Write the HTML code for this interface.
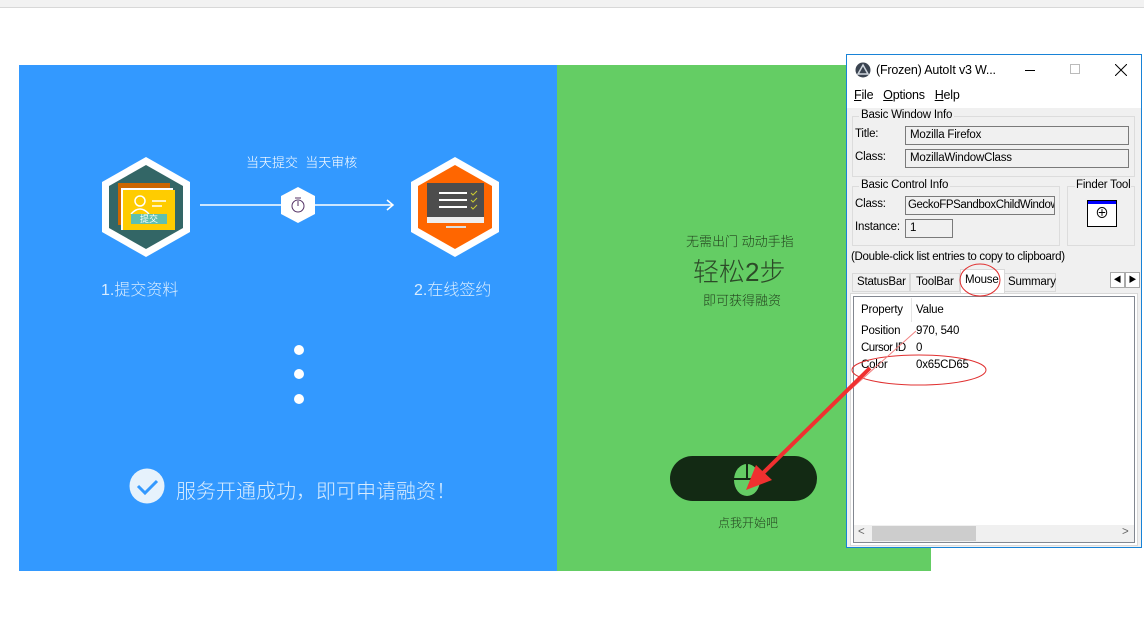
<!DOCTYPE html>
<html><head><meta charset="utf-8"><style>
*{margin:0;padding:0;box-sizing:border-box}
body{width:1144px;height:637px;position:relative;background:#fff;overflow:hidden;font-family:"Liberation Sans","Noto Sans CJK SC",sans-serif}
.a{position:absolute}
.cn{font-family:"Liberation Sans","Noto Sans CJK SC",sans-serif;font-weight:300}
.w{font-family:"Liberation Sans","Noto Sans CJK SC",sans-serif;font-size:11.5px;color:#000;letter-spacing:-0.2px;white-space:nowrap}
.box{border:1px solid #7a7a7a;background:#f0f0f0;padding:2px 4px;font-size:11.5px;letter-spacing:-0.2px}
.grp{border:1px solid #dcdcdc}
</style></head><body>
<div class="a" style="left:0;top:0;width:1144px;height:8px;background:#f2f2f2;border-bottom:1px solid #d8d8d8"></div>

<div class="a" style="left:19px;top:65px;width:538px;height:506px;background:#3399ff"></div>
<div class="a" style="left:557px;top:65px;width:374px;height:506px;background:#64cd64"></div>

<svg class="a" style="left:0;top:0" width="1144" height="637">
  <polygon points="146,157 190,182 190,232 146,257 102,232 102,182" fill="#fff"/>
  <polygon points="146,165 183,186 183,228 146,249 109,228 109,186" fill="#336666"/>
  <rect x="118" y="183" width="52" height="42" fill="#cc6600"/>
  <rect x="121" y="188" width="52" height="42" fill="#fff"/>
  <rect x="123" y="190" width="52" height="40" fill="#ffcc00"/>
  <circle cx="140" cy="201" r="5" fill="none" stroke="#fff" stroke-width="1.5"/>
  <path d="M131 214 q9 -10 18 0" fill="none" stroke="#fff" stroke-width="1.5"/>
  <line x1="152" y1="201" x2="166" y2="201" stroke="#fff" stroke-width="1.5"/>
  <line x1="152" y1="206" x2="162" y2="206" stroke="#fff" stroke-width="1.5"/>
  <rect x="131" y="214" width="36" height="10" fill="#5fbfb0"/>
  <text x="149" y="222" fill="#fff" font-size="9" text-anchor="middle" font-family="Noto Sans CJK SC">提交</text>
  <line x1="200" y1="205" x2="393" y2="205" stroke="#fff" stroke-width="1.5"/>
  <polyline points="387,200 393,205 387,210" fill="none" stroke="#fff" stroke-width="1.5"/>
  <polygon points="298,187 315,196 315,214 298,223 281,214 281,196" fill="#fff"/>
  <circle cx="298" cy="206" r="6" fill="none" stroke="#553366" stroke-width="1"/>
  <line x1="298" y1="206" x2="298" y2="201" stroke="#553366"/>
  <line x1="295" y1="198" x2="301" y2="198" stroke="#553366"/>
  <polygon points="455,157 499,182 499,232 455,257 411,232 411,182" fill="#fff"/>
  <polygon points="455,165 492,186 492,228 455,249 418,228 418,186" fill="#ff6600"/>
  <rect x="427" y="183" width="57" height="40" fill="#4d4d4d"/>
  <rect x="427" y="217" width="57" height="6" fill="#eee"/>
  <rect x="446" y="226" width="20" height="2" fill="#ddd"/>
  <line x1="439" y1="193" x2="467" y2="193" stroke="#fff" stroke-width="2"/>
  <line x1="439" y1="200" x2="467" y2="200" stroke="#fff" stroke-width="2"/>
  <line x1="439" y1="207" x2="467" y2="207" stroke="#fff" stroke-width="2"/>
  <path d="M471 193 l2 2 l4 -4 M471 200 l2 2 l4 -4 M471 207 l2 2 l4 -4" stroke="#cccc33" fill="none"/>
  <circle cx="299" cy="350" r="5" fill="#fff"/>
  <circle cx="299" cy="374" r="5" fill="#fff"/>
  <circle cx="299" cy="399" r="5" fill="#fff"/>
  <circle cx="147" cy="486" r="17.5" fill="#e6f2fc"/>
  <polyline points="138,486 145,493 157,481" fill="none" stroke="#3399ff" stroke-width="3"/>
  <rect x="670" y="456" width="147" height="45" rx="22.5" fill="#132a14"/>
  <ellipse cx="747" cy="480" rx="13" ry="16" fill="#64cd64"/>
  <line x1="734" y1="479" x2="760" y2="479" stroke="#132a14" stroke-width="2"/>
  <line x1="747" y1="463" x2="747" y2="479" stroke="#132a14" stroke-width="2"/>
</svg>

<div class="a cn" style="left:246px;top:152px;font-size:13px;color:#fff">当天提交&nbsp;&nbsp;当天审核</div>
<div class="a cn" style="left:101px;top:276px;font-size:16px;color:#d8ecff">1.提交资料</div>
<div class="a cn" style="left:414px;top:276px;font-size:16px;color:#d8ecff">2.在线签约</div>
<div class="a cn" style="left:176px;top:475px;font-size:20px;color:#d8ecff">服务开通成功，即可申请融资！</div>
<div class="a cn" style="left:686px;top:231px;font-size:13px;color:#24431f">无需出门 动动手指</div>
<div class="a cn" style="left:693px;top:252px;font-size:26px;color:#2c4a28">轻松2步</div>
<div class="a cn" style="left:703px;top:290px;font-size:13px;color:#24431f">即可获得融资</div>
<div class="a cn" style="left:718px;top:514px;font-size:12px;color:#24431f">点我开始吧</div>

<div class="a" style="left:846px;top:54px;width:296px;height:494px;background:#f0f0f0;border:1px solid #1883d7">
  <div class="a" style="left:0;top:0;width:294px;height:31px;background:#fff"></div>
  <svg class="a" style="left:8px;top:7px" width="16" height="16"><circle cx="8" cy="8" r="7.5" fill="#3a4350"/><polygon points="8,3 13,12 3,12" fill="none" stroke="#cfd6de" stroke-width="1.5"/></svg>
  <div class="a w" style="left:29px;top:8px;font-size:12.5px">(Frozen) AutoIt v3 W...</div>
  <div class="a" style="left:178px;top:15px;width:10px;height:1px;background:#000"></div>
  <div class="a" style="left:223px;top:9px;width:10px;height:10px;border:1px solid #bbb"></div>
  <svg class="a" style="left:268px;top:9px" width="12" height="12"><path d="M0 0 L12 12 M12 0 L0 12" stroke="#000" stroke-width="1"/></svg>
  <div class="a" style="left:0;top:31px;width:294px;height:22px;background:#fff"></div>
  <div class="a w" style="left:7px;top:33px;font-size:12.5px"><u>F</u>ile&nbsp;&nbsp;&nbsp;<u>O</u>ptions&nbsp;&nbsp;&nbsp;<u>H</u>elp</div>

  <div class="a grp" style="left:5px;top:61px;width:283px;height:61px"></div>
  <div class="a w" style="left:12px;top:54px;background:#f0f0f0;padding:0 2px">Basic Window Info</div>
  <div class="a w" style="left:8px;top:73px">Title:</div>
  <div class="a box" style="left:58px;top:71px;width:224px;height:19px">Mozilla Firefox</div>
  <div class="a w" style="left:8px;top:96px">Class:</div>
  <div class="a box" style="left:58px;top:94px;width:224px;height:19px">MozillaWindowClass</div>

  <div class="a grp" style="left:5px;top:131px;width:208px;height:60px"></div>
  <div class="a w" style="left:12px;top:124px;background:#f0f0f0;padding:0 2px">Basic Control Info</div>
  <div class="a w" style="left:8px;top:143px">Class:</div>
  <div class="a box" style="left:58px;top:141px;width:150px;height:19px;overflow:hidden;white-space:nowrap;letter-spacing:-0.4px;padding:2px 2px">GeckoFPSandboxChildWindow</div>
  <div class="a w" style="left:8px;top:166px">Instance:</div>
  <div class="a box" style="left:58px;top:164px;width:48px;height:19px">1</div>
  <div class="a grp" style="left:220px;top:131px;width:68px;height:60px"></div>
  <div class="a w" style="left:228px;top:124px;background:#f0f0f0;padding:0 1px">Finder Tool</div>
  <div class="a" style="left:240px;top:145px;width:30px;height:27px;border:1px solid #000;background:#fff">
    <div style="height:3px;background:#0000ff"></div>
    <div class="a w" style="left:7px;top:5px;font-size:14px;line-height:14px">⊕</div>
  </div>
  <div class="a w" style="left:4px;top:196px;letter-spacing:-0.3px">(Double-click list entries to copy to clipboard)</div>

  <div class="a w" style="left:5px;top:218px;width:58px;height:19px;border:1px solid #d9d9d9;background:#f0f0f0;padding:2px 4px">StatusBar</div>
  <div class="a w" style="left:63px;top:218px;width:50px;height:19px;border:1px solid #d9d9d9;padding:2px 5px">ToolBar</div>
  <div class="a w" style="left:113px;top:214px;width:45px;height:24px;border:1px solid #d9d9d9;border-bottom:none;background:#fff;padding:4px 4px">Mouse</div>
  <div class="a w" style="left:157px;top:218px;width:52px;height:19px;border:1px solid #d9d9d9;padding:2px 3px">Summary</div>
  <div class="a" style="left:263px;top:217px;width:15px;height:16px;border:1px solid #aaa;background:#fff;font-size:8px;text-align:center;line-height:14px">◀</div>
  <div class="a" style="left:278px;top:217px;width:15px;height:16px;border:1px solid #aaa;background:#fff;font-size:8px;text-align:center;line-height:14px">▶</div>

  <div class="a" style="left:3px;top:238px;width:288px;height:253px;background:#fff;border:1px solid #d9d9d9"></div>
  <div class="a" style="left:6px;top:241px;width:282px;height:247px;background:#fff;border:1px solid #828790">
    <div class="a" style="left:57px;top:1px;width:1px;height:24px;background:#e5e5e5"></div>
    <div class="a w" style="left:7px;top:7px">Property</div>
    <div class="a w" style="left:62px;top:7px">Value</div>
    <div class="a w" style="left:7px;top:28px">Position</div>
    <div class="a w" style="left:62px;top:28px">970, 540</div>
    <div class="a w" style="left:7px;top:45px;letter-spacing:-0.5px">Cursor ID</div>
    <div class="a w" style="left:62px;top:45px">0</div>
    <div class="a w" style="left:7px;top:62px">Color</div>
    <div class="a w" style="left:62px;top:62px">0x65CD65</div>
    <div class="a" style="left:0;top:228px;width:280px;height:17px;background:#f0f0f0"></div>
    <div class="a" style="left:18px;top:229px;width:104px;height:15px;background:#cdcdcd"></div>
    <div class="a w" style="left:4px;top:229px;color:#666">&lt;</div>
    <div class="a w" style="left:268px;top:229px;color:#666">&gt;</div>
  </div>
</div>

<svg class="a" style="left:0;top:0" width="1144" height="637">
  <ellipse cx="980" cy="280" rx="20" ry="16" fill="none" stroke="#e03030" stroke-width="1"/>
  <ellipse cx="919" cy="370" rx="67" ry="15" fill="none" stroke="#e03030" stroke-width="1"/>
  <line x1="916" y1="331" x2="850" y2="390" stroke="#f08080" stroke-width="1"/>
  <line x1="870" y1="368" x2="760" y2="476" stroke="#f03030" stroke-width="4"/>
  <polygon points="746,490 756,465 772,480" fill="#f03030"/>
</svg>
</body></html>
